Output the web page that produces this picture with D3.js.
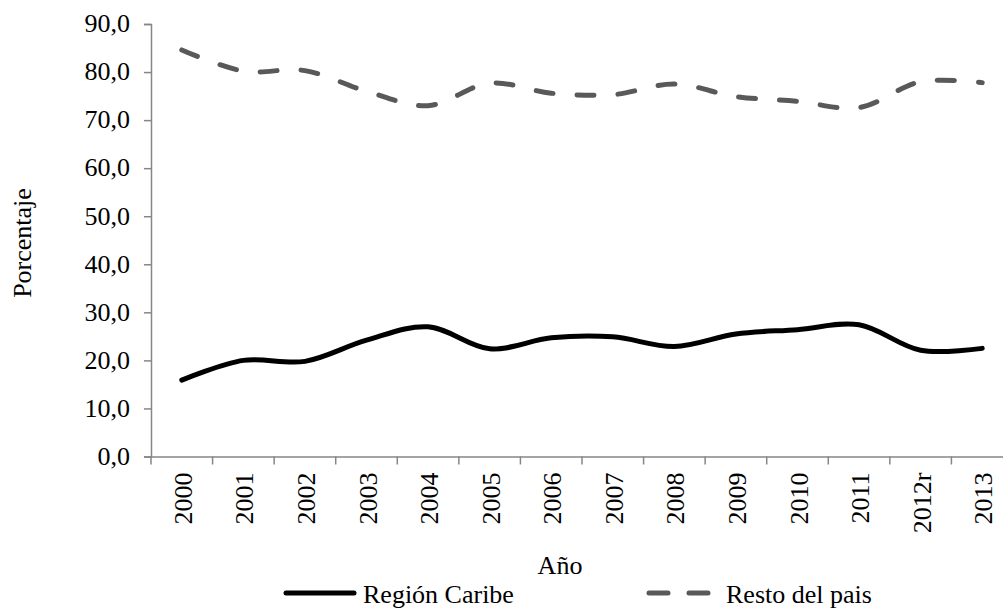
<!DOCTYPE html>
<html>
<head>
<meta charset="utf-8">
<script src="https://cdn.jsdelivr.net/npm/d3@7"></script>
<style>
  body { margin: 0; background: #fff; }
</style>
</head>
<body>
<script>
//Data
const years = ['2000','2001','2002','2003','2004','2005','2006','2007','2008','2009','2010','2011','2012r','2013']
const caribe = [15.9, 20.0, 19.8, 24.2, 27.0, 22.4, 24.7, 24.9, 22.9, 25.5, 26.4, 27.4, 22.1, 22.5]
const resto = [84.6, 80.2, 80.3, 76.0, 73.0, 77.7, 75.6, 75.3, 77.5, 74.9, 73.9, 72.6, 78.0, 77.8]
const yTicks = [0, 10, 20, 30, 40, 50, 60, 70, 80, 90]

//Sizes
const w = 1003
const h = 609
const plotLeft = 151
const plotRight = 1013
const plotTop = 24
const plotBottom = 456.5
const axisColor = '#868686'
const font = "'Liberation Serif'"

const svg = d3.select('body')
  .append('svg')
  .attr('width', w)
  .attr('height', h)

//Scales
const xScale = d3.scaleBand()
  .domain(years)
  .range([plotLeft, plotRight])

const yScale = d3.scaleLinear()
  .domain([0, 90])
  .range([plotBottom, plotTop])

//Y axis
const yAxis = d3.axisLeft(yScale)
  .tickValues(yTicks)
  .tickSize(7)
  .tickPadding(14)
  .tickFormat(d => d3.format('.1f')(d).replace('.', ','))

const gy = svg.append('g')
  .attr('transform', 'translate(' + plotLeft + ',0)')
  .call(yAxis)
gy.select('.domain').attr('stroke', axisColor).attr('stroke-width', 1.5)
gy.selectAll('.tick line').attr('stroke', axisColor).attr('stroke-width', 1.5)
gy.selectAll('.tick text')
  .attr('fill', '#000')
  .attr('dy', '0.3em')
  .style('font-family', font)
  .style('font-size', '26px')

//X axis
const xAxis = d3.axisBottom(xScale).tickSize(0).tickFormat('')
const gx = svg.append('g')
  .attr('transform', 'translate(0,' + plotBottom + ')')
  .call(xAxis)
gx.select('.domain').attr('stroke', axisColor).attr('stroke-width', 1.5)

//Tick marks at band edges
const edges = years.map(d => xScale(d)).concat([plotRight])
gx.selectAll('.edge')
  .data(edges)
  .enter()
  .append('line')
  .attr('x1', d => d)
  .attr('x2', d => d)
  .attr('y1', 0)
  .attr('y2', 8)
  .attr('stroke', axisColor)
  .attr('stroke-width', 1.5)

//Rotated year labels
svg.selectAll('.year')
  .data(years)
  .enter()
  .append('text')
  .attr('transform', d => 'translate(' + (xScale(d) + xScale.bandwidth() / 2 + 10) + ',' + (plotBottom + 16) + ') rotate(-90)')
  .attr('text-anchor', 'end')
  .style('font-family', font)
  .style('font-size', '26px')
  .text(d => d)

//Axis titles
svg.append('text')
  .attr('transform', 'translate(31,243) rotate(-90)')
  .attr('text-anchor', 'middle')
  .style('font-family', font)
  .style('font-size', '26px')
  .text('Porcentaje')

svg.append('text')
  .attr('x', 560)
  .attr('y', 574)
  .attr('text-anchor', 'middle')
  .style('font-family', font)
  .style('font-size', '26px')
  .text('Año')

//Lines
const line = d3.line()
  .x((d, i) => xScale(years[i]) + xScale.bandwidth() / 2)
  .y(d => yScale(d))
  .curve(d3.curveCatmullRom.alpha(0.5))

svg.append('path')
  .datum(resto)
  .attr('d', line)
  .attr('fill', 'none')
  .attr('stroke', '#595959')
  .attr('stroke-width', 5)
  .attr('stroke-linecap', 'round')
  .attr('stroke-dasharray', '17,24')

svg.append('path')
  .datum(caribe)
  .attr('d', line)
  .attr('fill', 'none')
  .attr('stroke', '#000')
  .attr('stroke-width', 5)
  .attr('stroke-linecap', 'round')

//Legend
svg.append('line')
  .attr('x1', 286).attr('x2', 354)
  .attr('y1', 593).attr('y2', 593)
  .attr('stroke', '#000')
  .attr('stroke-width', 5)
  .attr('stroke-linecap', 'round')

svg.append('text')
  .attr('x', 363)
  .attr('y', 603)
  .style('font-family', font)
  .style('font-size', '26px')
  .text('Región Caribe')

svg.append('line')
  .attr('x1', 649).attr('x2', 712)
  .attr('y1', 593).attr('y2', 593)
  .attr('stroke', '#595959')
  .attr('stroke-width', 5)
  .attr('stroke-linecap', 'round')
  .attr('stroke-dasharray', '19,21')

svg.append('text')
  .attr('x', 726)
  .attr('y', 603)
  .style('font-family', font)
  .style('font-size', '26px')
  .text('Resto del pais')
</script>
</body>
</html>
